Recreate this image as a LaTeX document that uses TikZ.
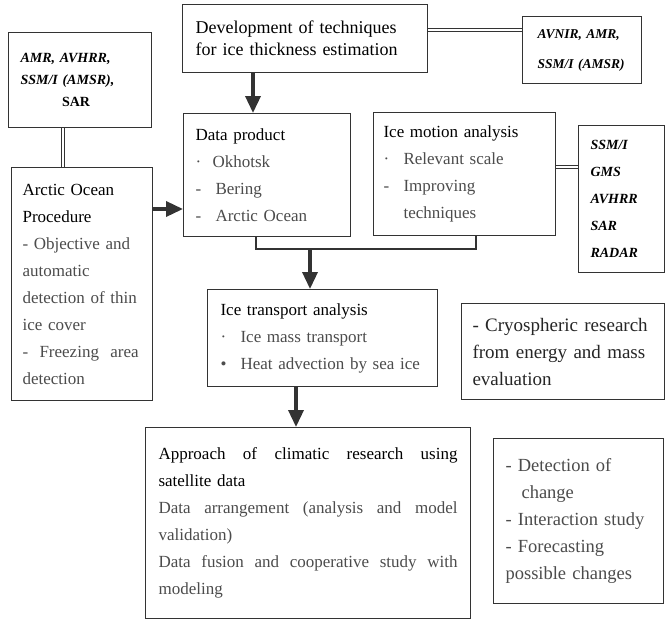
\documentclass[tikz,border=0pt]{standalone}
\usepackage{fontspec}
\setmainfont{Liberation Serif}
\usetikzlibrary{arrows.meta}
\newcommand{\spread}[1]{\makebox[\hsize][s]{\spaceskip=0.25em plus 1fil\relax #1}}
\newcommand{\bul}[2]{\makebox[#1][l]{#2}}
\newcommand{\hd}[1]{\textcolor{black}{#1}}
\begin{document}
\begin{tikzpicture}[x=1pt, y=-1pt,
        box/.style={draw=black!80, line width=1.1pt, fill=white, anchor=north west,
            align=left, inner xsep=12pt, inner ysep=0pt, text=black!70,
            font=\fontsize{17}{27}\selectfont},
        sat/.style={box, text=black, font=\fontsize{14}{27}\selectfont\bfseries\itshape},
        flow/.style={draw=black!80, line width=3.5pt, -{Triangle[length=17pt, width=15pt]}},
        link/.style={draw=black!80, double, double distance=2pt, line width=1pt},
    ]
    \useasboundingbox (0,0) rectangle (666,619);

    \node[box, text=black, minimum width=245pt, text width=219pt, minimum height=68pt,
        font=\fontsize{18}{22}\selectfont] (dev) at (182,4)
        {Development of techniques\\for ice thickness estimation};
    \node[sat, minimum width=119pt, text width=95pt, minimum height=67pt,
        font=\fontsize{13.5}{30}\selectfont\bfseries\itshape] (avnir) at (522,16)
        {\hspace*{3pt}AVNIR, AMR,\\\hspace*{3pt}SSM/I (AMSR)};
    \node[sat, minimum width=143pt, text width=119pt, minimum height=95pt,
        font=\fontsize{14}{22}\selectfont\bfseries\itshape] (amr) at (8,32)
        {AMR, AVHRR,\\SSM/I (AMSR),\\\makebox[\hsize]{\upshape SAR\hspace*{8pt}}};
    \node[box, inner xsep=11pt, minimum width=141pt, text width=119pt, minimum height=233pt] (arctic) at (11,167)
        {\hd{Arctic Ocean}\\\hd{Procedure}\\- Objective and\\automatic\\detection of thin\\ice cover\\- \ Freezing \ area\\detection};
    \node[box, minimum width=167pt, text width=143pt, minimum height=123pt] (data) at (183,113)
        {\hd{Data product}\\\bul{17pt}{\textperiodcentered}Okhotsk\\\bul{20pt}{-}Bering\\\bul{20pt}{-}Arctic Ocean};
    \node[box, inner xsep=10pt, minimum width=182pt, text width=162pt, minimum height=123pt] (motion) at (373,112)
        {\hd{Ice motion analysis}\\\bul{20pt}{\textperiodcentered}Relevant scale\\\bul{20pt}{-}Improving\\\bul{20pt}{}techniques};
    \node[sat, minimum width=86pt, text width=62pt, minimum height=147pt] (ssmi) at (578,125)
        {SSM/I\\GMS\\AVHRR\\SAR\\RADAR};
    \node[box, inner xsep=13pt, minimum width=230pt, text width=204pt, minimum height=97pt] (trans) at (207,289)
        {\hd{Ice transport analysis}\\\bul{20pt}{\textperiodcentered}Ice mass transport\\\bul{20pt}{\textbullet}Heat advection by sea ice};
    \node[box, text=black!85, inner xsep=11pt, minimum width=203pt, text width=181pt, minimum height=96pt,
        font=\fontsize{19}{27}\selectfont] (cryo) at (461,303)
        {- Cryospheric research\\from energy and mass\\evaluation};
    \node[box, inner xsep=13pt, minimum width=325pt, text width=299pt, minimum height=191pt] (appr) at (145,427)
        {\hd{\spread{Approach of climatic research using}}\\\hd{satellite data}\\\spread{Data arrangement (analysis and model}\\validation)\\\spread{Data fusion and cooperative study with}\\modeling};
    \node[box, minimum width=170pt, text width=146pt, minimum height=165pt,
        font=\fontsize{18.5}{27}\selectfont] (detect) at (493,438)
        {- Detection of\\\hspace*{16pt}change\\- Interaction study\\- Forecasting\\possible changes};

    % bracket under the two analysis boxes
    \coordinate (wrapL) at (256,249);
    \coordinate (wrapR) at (476,249);
    \draw[draw=black!80, line width=1.1pt] (data.south -| wrapL) -- (wrapL) -- (wrapR) -- (motion.south -| wrapR);

    % arrows
    \coordinate (f1) at (253,0);
    \draw[flow] (dev.south -| f1) -- (data.north -| f1);
    \coordinate (f2) at (0,209);
    \draw[flow] (arctic.east |- f2) -- (data.west |- f2);
    \coordinate (f3) at (310,0);
    \draw[flow] (wrapL -| f3) -- (trans.north -| f3);
    \coordinate (f4) at (296,0);
    \draw[flow] (trans.south -| f4) -- (appr.north -| f4);

    % sensor links
    \coordinate (l1) at (63,0);
    \draw[link] (amr.south -| l1) -- (arctic.north -| l1);
    \coordinate (l2) at (0,30);
    \draw[link] (dev.east |- l2) -- (avnir.west |- l2);
    \coordinate (l3) at (0,167);
    \draw[link] (motion.east |- l3) -- (ssmi.west |- l3);
\end{tikzpicture}
\end{document}
